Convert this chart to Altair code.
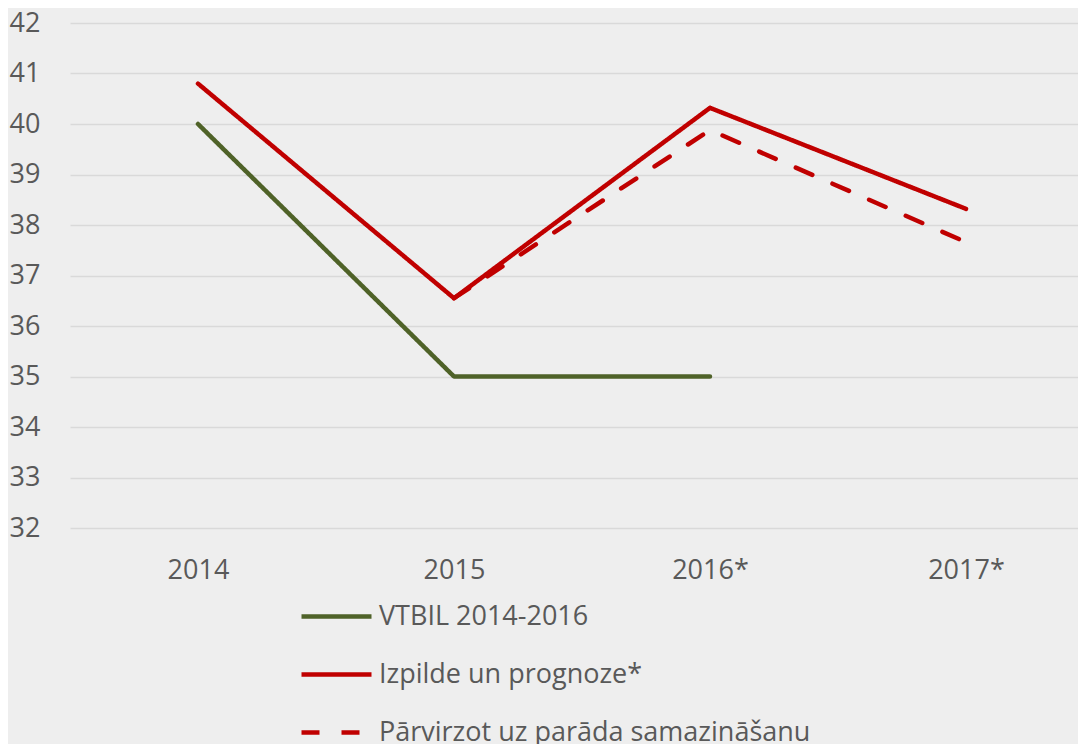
import altair as alt
import pandas as pd

years = ["2014", "2015", "2016*", "2017*"]
series_names = ["VTBIL 2014-2016", "Izpilde un prognoze*", "Pārvirzot uz parāda samazināšanu"]
vtbil = [40.0, 35.0, 35.0, None]
izpilde = [40.8, 36.55, 40.32, 38.32]
parvirzot = [None, 36.55, 39.88, 37.66]
y_ticks = list(range(32, 43))

rows = []
for name, vals in zip(series_names, [vtbil, izpilde, parvirzot]):
    for i, (yr, v) in enumerate(zip(years, vals)):
        if v is not None:
            rows.append({"year": yr, "value": v, "series": name, "order": i})
df = pd.DataFrame(rows)

FONT = "Open Sans"
TXT = "#595959"

chart = alt.Chart(df).mark_line(strokeWidth=4.5, strokeCap="round", strokeJoin="round").encode(
    x=alt.X("year:O", sort=years,
            scale=alt.Scale(type="point", domain=years, padding=0.46875, align=0.5333),
            axis=alt.Axis(title=None, labelAngle=0, domain=False, ticks=False,
                          labelFontSize=27, labelFont=FONT, labelColor=TXT,
                          labelPadding=29, grid=False)),
    y=alt.Y("value:Q", scale=alt.Scale(domain=[32, 42], nice=False, zero=False),
            axis=alt.Axis(title=None, values=y_ticks, domain=False, ticks=False,
                          labelFontSize=27, labelFont=FONT, labelColor=TXT,
                          labelPadding=30, grid=True, gridColor="#d9d9d9",
                          gridWidth=1.6)),
    color=alt.Color("series:N", sort=series_names,
                    scale=alt.Scale(domain=series_names, range=["#4f6228", "#c00000", "#c00000"]),
                    legend=alt.Legend(title=None, orient="none", legendX=229, legendY=556,
                                      direction="vertical", symbolType="stroke",
                                      symbolSize=4900, symbolStrokeWidth=4.5,
                                      labelFontSize=27, labelFont=FONT, labelColor=TXT,
                                      labelOffset=5, rowPadding=7, labelLimit=600)),
    strokeDash=alt.StrokeDash("series:N", sort=series_names,
                              scale=alt.Scale(domain=series_names, range=[[1, 0], [1, 0], [18, 22]]),
                              legend=None),
    order="order:Q",
).properties(
    width=1008, height=505,
    padding={"left": 62, "top": 15, "right": 0, "bottom": 230},
    autosize=alt.AutoSizeParams(type="none"),
    background="#eeeeee",
).configure_view(stroke=None)

chart.save("out.html", embed_options={"renderer": "svg", "actions": False})
